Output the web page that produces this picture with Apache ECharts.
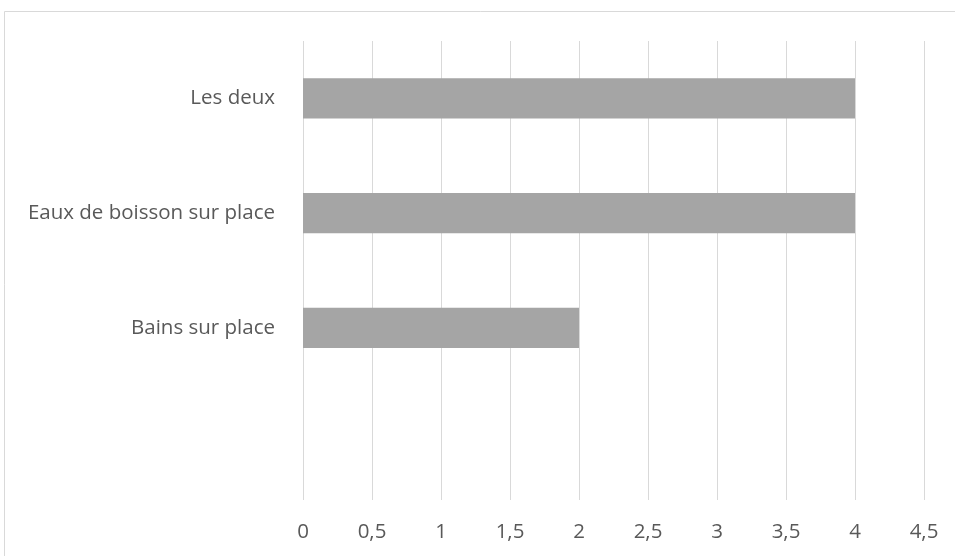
<!DOCTYPE html>
<html>
<head>
<meta charset="utf-8">
<script src="https://cdn.jsdelivr.net/npm/echarts@6/dist/echarts.min.js"></script>
<style>
html,body{margin:0;padding:0;background:#fff;}
#chart{width:955px;height:556px;}
</style>
</head>
<body>
<div id="chart"></div>
<script>
const categories = ['', 'Bains sur place', 'Eaux de boisson sur place', 'Les deux'];
const values = [null, 2, 4, 4];
const xMin = 0, xMax = 4.5, xStep = 0.5;

const chart = echarts.init(document.getElementById('chart'));
const FONT = 'Open Sans';
chart.setOption({
  animation: false,
  backgroundColor: '#ffffff',
  graphic: [{
    type: 'rect',
    shape: { x: 4.5, y: 11.5, width: 1200, height: 800 },
    style: { fill: 'none', stroke: '#d9d9d9', lineWidth: 1 },
    silent: true
  }],
  grid: { left: 303, right: 31, top: 41, bottom: 56, containLabel: false },
  xAxis: {
    type: 'value',
    min: xMin, max: xMax, interval: xStep,
    axisLine: { show: false },
    axisTick: { show: false },
    splitLine: { show: true, lineStyle: { color: '#d9d9d9', width: 1 } },
    axisLabel: {
      color: '#595959', fontFamily: FONT, fontSize: 20.5, margin: 22,
      formatter: v => String(v).replace('.', ',')
    }
  },
  yAxis: {
    type: 'category',
    data: categories,
    axisLine: { show: false },
    axisTick: { show: false },
    splitLine: { show: false },
    axisLabel: { color: '#595959', fontFamily: FONT, fontSize: 20.5, margin: 28 }
  },
  series: [{
    type: 'bar',
    data: values,
    barCategoryGap: '65%',
    itemStyle: { color: '#a5a5a5' }
  }]
});
</script>
</body>
</html>
